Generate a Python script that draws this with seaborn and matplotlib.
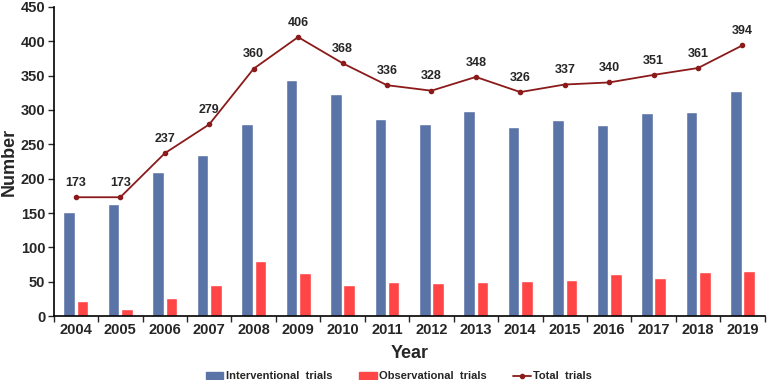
import numpy as np
import pandas as pd
import matplotlib
matplotlib.use("Agg")
import matplotlib.pyplot as plt
import seaborn as sns
from matplotlib.ticker import FixedLocator
from matplotlib.patches import Patch
from matplotlib.lines import Line2D

years = ["2004", "2005", "2006", "2007", "2008", "2009", "2010", "2011",
         "2012", "2013", "2014", "2015", "2016", "2017", "2018", "2019"]
interventional = [151, 163, 210, 234, 280, 343, 323, 287, 280, 298, 275, 285, 278, 295, 297, 328]
observational = [22, 10, 27, 45, 80, 63, 45, 49, 48, 50, 51, 52, 62, 56, 64, 66]
total = [173, 173, 237, 279, 360, 406, 368, 336, 328, 348, 326, 337, 340, 351, 361, 394]
series_names = ["Interventional  trials", "Observational  trials"]
line_name = "Total  trials"

sns.set_style("white")
plt.rcParams['font.family'] = ['Liberation Sans', 'DejaVu Sans']
plt.rcParams['font.weight'] = 'bold'

df = pd.DataFrame({
    "Year": years * 2,
    "Number": interventional + observational,
    "Type": [series_names[0]] * len(years) + [series_names[1]] * len(years),
})

fig = plt.figure(figsize=(7.67, 3.8), dpi=100)
ax = fig.add_axes([0.070, 0.168, 0.927, 0.814])

sns.barplot(data=df, x="Year", y="Number", hue="Type", order=years,
            hue_order=series_names, palette=["#5b74a8", "#ff4545"],
            width=0.6, gap=0.13, saturation=1, ax=ax, legend=False)

xpos = np.arange(len(years))
ax.plot(xpos, total, color="#8b1a1a", lw=1.3, marker="o", ms=3, label=line_name)
for x, v in zip(xpos, total):
    ax.annotate(str(v), (x, v), xytext=(0, 6), textcoords="offset points",
                ha="center", va="bottom", fontsize=9, fontweight="bold")

ax.set_xlim(-0.5, len(years) - 0.5)
ax.set_ylim(0, 450)
ax.set_yticks(np.arange(0, 451, 50))
ax.tick_params(axis="y", labelsize=10.5, length=4, width=1, direction="out", left=True, pad=2)
ax.tick_params(axis="x", labelsize=10.5, length=0, pad=5)
ax.xaxis.set_minor_locator(FixedLocator(np.arange(-0.5, len(years), 1.0)))
ax.tick_params(axis="x", which="minor", length=4, width=1, direction="out", bottom=True)
for lab in ax.get_xticklabels() + ax.get_yticklabels():
    lab.set_fontweight("bold")

ax.set_xlabel("Year", fontsize=13, fontweight="bold", labelpad=6)
ax.set_ylabel("Number", fontsize=13, fontweight="bold", labelpad=2)

for s in ["top", "right"]:
    ax.spines[s].set_visible(False)
for s in ["left", "bottom"]:
    ax.spines[s].set_color("black")
    ax.spines[s].set_linewidth(1.2)

handles = [Patch(color="#5b74a8"), Patch(color="#ff4545"),
           Line2D([0], [0], color="#8b1a1a", lw=1.3, marker="o", ms=3)]
fig.legend(handles, series_names + [line_name], loc="lower center",
           bbox_to_anchor=(0.52, -0.03), ncol=3, frameon=False,
           prop={"weight": "bold", "size": 8}, handlelength=1.6,
           handleheight=0.5, handletextpad=0.2, columnspacing=2.4)

fig.savefig("out.png", dpi=100)
